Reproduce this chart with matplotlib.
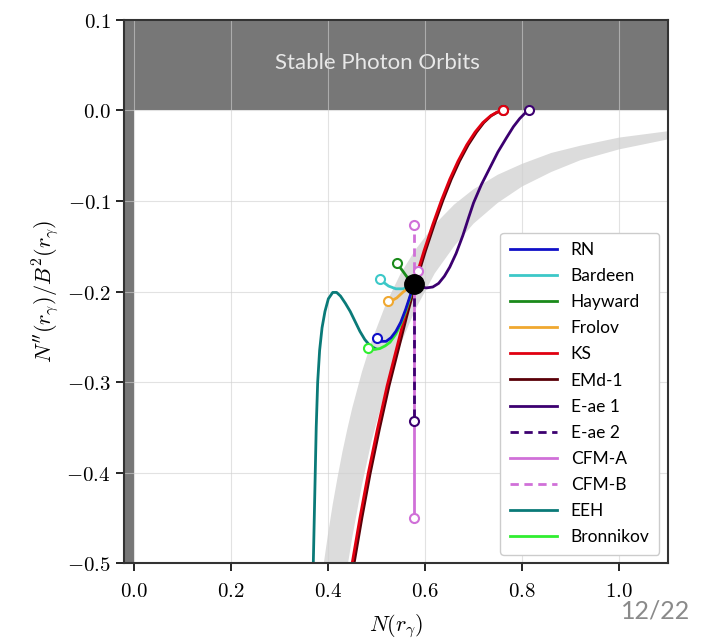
import numpy as np
import matplotlib
matplotlib.use('Agg')
import matplotlib.pyplot as plt
from matplotlib.ticker import FuncFormatter

plt.rcParams['mathtext.fontset'] = 'cm'

# photon sphere point shared by every model
center = (0.577, -0.192)

rn_x = [0.501, 0.510, 0.520, 0.530, 0.540, 0.550, 0.560, 0.568, 0.577]
rn_y = [-0.251, -0.255, -0.255, -0.251, -0.244, -0.234, -0.220, -0.207, -0.192]

bardeen_x = [0.507, 0.515, 0.525, 0.540, 0.555, 0.567, 0.577]
bardeen_y = [-0.186, -0.190, -0.194, -0.197, -0.197, -0.195, -0.192]

hayward_x = [0.542, 0.548, 0.555, 0.563, 0.570, 0.577]
hayward_y = [-0.169, -0.173, -0.178, -0.184, -0.188, -0.192]

frolov_x = [0.524, 0.532, 0.542, 0.554, 0.566, 0.577]
frolov_y = [-0.211, -0.210, -0.207, -0.201, -0.196, -0.192]

ks_x = [0.450, 0.466, 0.483, 0.502, 0.522, 0.540, 0.558, 0.577, 0.598, 0.616, 0.634,
        0.651, 0.668, 0.686, 0.703, 0.719, 0.735, 0.748, 0.760]
ks_y = [-0.500, -0.450, -0.401, -0.352, -0.304, -0.266, -0.228, -0.192, -0.155, -0.126,
        -0.099, -0.076, -0.056, -0.038, -0.024, -0.0135, -0.006, -0.002, 0.0]

emd_x = [0.454, 0.470, 0.487, 0.506, 0.526, 0.544, 0.562, 0.580, 0.601, 0.619, 0.637,
         0.654, 0.671, 0.689, 0.706, 0.721, 0.736, 0.749, 0.760]
emd_y = [-0.500, -0.450, -0.401, -0.352, -0.304, -0.266, -0.228, -0.192, -0.155, -0.126,
         -0.099, -0.076, -0.056, -0.038, -0.024, -0.0135, -0.006, -0.002, 0.0]

eae1_x = [0.577, 0.590, 0.603, 0.616, 0.628, 0.640, 0.651, 0.664, 0.678, 0.690, 0.700,
          0.716, 0.733, 0.750, 0.768, 0.782, 0.795, 0.806, 0.815]
eae1_y = [-0.192, -0.195, -0.196, -0.195, -0.191, -0.183, -0.173, -0.158, -0.138, -0.118,
          -0.102, -0.082, -0.064, -0.046, -0.030, -0.018, -0.009, -0.003, 0.0]

eae2_y = [-0.192, -0.343]
cfma_y = [-0.192, -0.450]
cfmb_y = [-0.192, -0.127]
cfma_extra = (0.585, -0.177)

eeh_x = [0.370, 0.372, 0.374, 0.376, 0.379, 0.383, 0.388, 0.394, 0.401, 0.410, 0.418,
         0.426, 0.436, 0.446, 0.456, 0.466, 0.476, 0.487, 0.498]
eeh_y = [-0.500, -0.450, -0.400, -0.350, -0.300, -0.265, -0.240, -0.222, -0.208, -0.201,
         -0.201, -0.205, -0.213, -0.222, -0.233, -0.244, -0.253, -0.260, -0.263]

bron_x = [0.483, 0.495, 0.507, 0.518, 0.528, 0.540, 0.550, 0.560, 0.568, 0.577]
bron_y = [-0.262, -0.264, -0.263, -0.260, -0.256, -0.247, -0.236, -0.222, -0.209, -0.192]

# grey band (edges)
band_x = [0.38, 0.39, 0.40, 0.41, 0.42, 0.43, 0.44, 0.45, 0.47, 0.49, 0.52, 0.55, 0.58,
          0.62, 0.66, 0.70, 0.75, 0.80, 0.86, 0.92, 1.00, 1.10]
band_hi = [-0.547, -0.506, -0.469, -0.435, -0.405, -0.377, -0.352, -0.329, -0.289, -0.255,
           -0.213, -0.180, -0.154, -0.126, -0.104, -0.087, -0.071, -0.059, -0.047, -0.039,
           -0.030, -0.023]
band_lo = [-0.784, -0.725, -0.672, -0.624, -0.580, -0.541, -0.505, -0.472, -0.414, -0.365,
           -0.306, -0.258, -0.220, -0.180, -0.150, -0.125, -0.102, -0.084, -0.068, -0.055,
           -0.043, -0.032]

x_ticks = [0.0, 0.2, 0.4, 0.6, 0.8, 1.0]
y_ticks = [-0.5, -0.4, -0.3, -0.2, -0.1, 0.0, 0.1]

legend_order = ['RN', 'Bardeen', 'Hayward', 'Frolov', 'KS', 'EMd-1', 'E-ae 1', 'E-ae 2',
                'CFM-A', 'CFM-B', 'EEH', 'Bronnikov']

colors = {'RN': '#1010c8', 'Bardeen': '#3cc8c8', 'Hayward': '#1a8a1a', 'Frolov': '#f0a830',
          'KS': '#e00010', 'EMd-1': '#5a0008', 'E-ae 1': '#3c0070', 'E-ae 2': '#3c0070',
          'CFM-A': '#d070d8', 'CFM-B': '#d070d8', 'EEH': '#0a7a78', 'Bronnikov': '#30ee30'}

fig = plt.figure(figsize=(7.12, 6.4), dpi=100)
ax = fig.add_axes([0.174, 0.12, 0.764, 0.849])

# shaded regions
ax.axhspan(0.0, 0.2, color='#777777', zorder=1, lw=0)
ax.axvspan(-0.1, 0.0, color='#777777', zorder=1, lw=0)
ax.fill_between(band_x, band_lo, band_hi, color='#dcdcdc', lw=0, zorder=1)
ax.text(0.503, 0.052, 'Stable Photon Orbits', color='#e8e8e8', fontsize=16,
        family='Lato', ha='center', va='center', zorder=2)

lw = 2.0
ms = 6.5
lines = {}


def draw(x, y, name, mark_first=False, mark_last=False, ls='-', z=3):
    c = colors[name]
    lines[name], = ax.plot(x, y, color=c, lw=lw, ls=ls, zorder=z)
    pts = []
    if mark_first:
        pts.append(0)
    if mark_last:
        pts.append(len(x) - 1)
    for i in pts:
        ax.plot(x[i], y[i], 'o', mfc='white', mec=c, mew=1.5, ms=ms, zorder=z + 0.5)


cx = center[0]
draw(emd_x, emd_y, 'EMd-1', mark_last=True)
draw(ks_x, ks_y, 'KS', mark_last=True, z=3.05)
draw(rn_x, rn_y, 'RN', mark_first=True, z=3.4)
draw(bardeen_x, bardeen_y, 'Bardeen', mark_first=True)
draw(hayward_x, hayward_y, 'Hayward', mark_first=True)
draw(frolov_x, frolov_y, 'Frolov', mark_first=True)
draw(eae1_x, eae1_y, 'E-ae 1', mark_last=True)
draw([cx, cx], eae2_y, 'E-ae 2', mark_last=True, ls=(0, (3, 2)), z=3.6)
draw([cx, cx], cfma_y, 'CFM-A', mark_last=True, z=3.2)
draw([cx, cx], cfmb_y, 'CFM-B', mark_last=True, ls=(0, (3, 2)))
draw(eeh_x, eeh_y, 'EEH')
draw(bron_x, bron_y, 'Bronnikov', mark_first=True, z=3.1)
ax.plot(*cfma_extra, 'o', mfc='white', mec=colors['CFM-A'], mew=1.5, ms=ms, zorder=4)
ax.plot(*center, 'o', color='black', ms=14, zorder=5)

ax.set_xlim(-0.02, 1.1)
ax.set_ylim(-0.5, 0.1)
ax.set_xticks(x_ticks)
ax.set_yticks(y_ticks)
fmt = FuncFormatter(lambda v, p: r'$%.1f$' % v if abs(v) > 1e-9 else r'$0.0$')
ax.xaxis.set_major_formatter(fmt)
ax.yaxis.set_major_formatter(fmt)
ax.tick_params(labelsize=15, length=6, width=1.2, direction='out')
ax.tick_params(axis='x', pad=7)
ax.grid(True, color='#d0d0d0', lw=0.8, alpha=0.6)
ax.set_axisbelow(False)
for s in ax.spines.values():
    s.set_linewidth(1.5)
    s.set_color('#333333')
    s.set_zorder(6)

ax.set_xlabel(r'$N(r_\gamma)$', fontsize=16, labelpad=8)
ax.set_ylabel(r"$N''(r_\gamma)/B^2(r_\gamma)$", fontsize=16)

leg = ax.legend([lines[n] for n in legend_order], legend_order, loc='lower right',
                prop={'family': 'Lato', 'size': 12.5}, handlelength=2.7, handletextpad=0.8,
                labelspacing=0.58, borderpad=0.55, framealpha=1, edgecolor='#cccccc',
                fancybox=True)
leg.set_zorder(7)

fig.text(0.97, 0.045, '12/22', ha='right', va='center', fontsize=18, color='#8a8a8a',
         family='Lato')

fig.savefig('out.png', dpi=100)
